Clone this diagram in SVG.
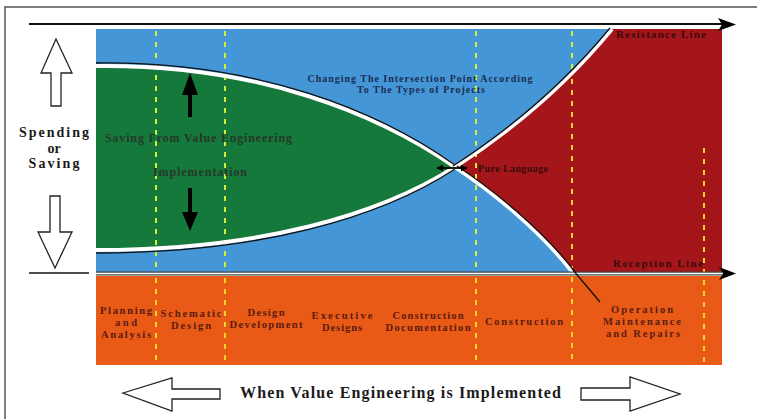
<svg xmlns="http://www.w3.org/2000/svg" width="757" height="419" viewBox="0 0 757 419">
<defs>
<style>
text{font-family:"Liberation Serif","Times New Roman",serif;font-weight:bold}
.lbl{font-size:14px;fill:#1a1a1a;text-anchor:middle}
.ph{font-size:10.5px;fill:#5b1a12;text-anchor:middle}
.gr{font-size:12px;fill:#26382a}
.bl{font-size:10px;fill:#1b2d55;text-anchor:middle}
.rd{font-size:11px;fill:#3a0b0b}
.dashT{stroke:#d2ee36;stroke-width:2;stroke-dasharray:5 6;fill:none}
.dashB{stroke:#f5d52a;stroke-width:2;stroke-dasharray:5 6;fill:none}
.hollow{fill:#fff;stroke:#222;stroke-width:1.3;stroke-linejoin:miter}
.edgeW{fill:none;stroke:#fff;stroke-width:4}
.edgeK{fill:none;stroke:#111;stroke-width:1.3}
</style>
<marker id="ah" viewBox="0 0 10 10" refX="9" refY="5" markerWidth="7" markerHeight="7" orient="auto-start-reverse" markerUnits="userSpaceOnUse">
<path d="M0,0 L10,5 L0,10 z" fill="#000"/>
</marker>
</defs>
<rect width="757" height="419" fill="#fff"/>
<!-- frame -->
<path d="M5,419 L5,7 L757,7" fill="none" stroke="#555" stroke-width="1.5"/>

<!-- chart regions -->
<g id="chart">
<rect x="96" y="29" width="626" height="244" fill="#4596d6"/>
<rect x="96" y="276" width="626" height="89" fill="#e85a15"/>
<path id="green" d="M96,66 C260,64 380,115 455,167 C380,215 260,250 96,250 Z" fill="#14793a"/>
<path id="red" d="M455,167 C520,125 570,80 612,29 L722,29 L722,273 L573,273 C540,230 490,190 455,167 Z" fill="#a5161b"/>
</g>

<!-- dashed phase lines -->
<g id="phase-lines">
<line class="dashT" x1="156" y1="31" x2="156" y2="273"/>
<line class="dashB" x1="156" y1="278" x2="156" y2="365"/>
<line class="dashT" x1="225" y1="31" x2="225" y2="273"/>
<line class="dashB" x1="225" y1="278" x2="225" y2="365"/>
<line class="dashT" x1="476" y1="31" x2="476" y2="273"/>
<line class="dashB" x1="476" y1="278" x2="476" y2="365"/>
<line class="dashT" x1="572" y1="31" x2="572" y2="72"/>
<line class="dashB" x1="572" y1="79" x2="572" y2="365"/>
<line class="dashB" x1="704" y1="148" x2="704" y2="365"/>
</g>

<!-- connectors / curves -->
<g id="connectors">
<path class="edgeW" d="M96,66 C260,64 380,115 455,167"/>
<path class="edgeK" d="M96,63 C260,61 380,112 455,165"/>
<path class="edgeW" d="M455,167 C380,215 260,250 96,250"/>
<path class="edgeK" d="M455,169 C380,218 260,253 96,253"/>
<path class="edgeW" d="M455,167 C520,125 570,80 612,29"/>
<path class="edgeK" d="M453,166 C518,124 568,79 610,28"/>
<path class="edgeW" d="M455,167 C490,190 540,230 573,273"/>
<path class="edgeK" d="M457,166 C492,189 542,229 575,272"/>
<!-- axes -->
<line x1="29" y1="24" x2="724" y2="24" stroke="#111" stroke-width="1.8"/>
<path d="M718,18 L736,24.5 L718,31 L722,24.5 Z" fill="#000"/>
<line x1="29" y1="273" x2="89" y2="273" stroke="#111" stroke-width="1.6"/>
<line x1="96" y1="273.5" x2="722" y2="273.5" stroke="#444" stroke-width="4"/>
<line x1="96" y1="273.5" x2="722" y2="273.5" stroke="#fff" stroke-width="1.6"/>
<path d="M719,267 L736,273.5 L719,280 L723,273.5 Z" fill="#000"/>
<!-- leader -->
<line x1="573" y1="270" x2="600" y2="302" stroke="#111" stroke-width="1.3"/>
<!-- intersection double arrow -->
<line x1="437" y1="168" x2="467" y2="168" stroke="#000" stroke-width="1.8" marker-start="url(#ah)" marker-end="url(#ah)"/>
<!-- solid arrows -->
<path d="M190,73 L198,95 L192,95 L192,117 L188,117 L188,95 L182,95 Z" fill="#000"/>
<path d="M188,188 L192,188 L192,212 L198,212 L190,231 L182,212 L188,212 Z" fill="#000"/>
<!-- hollow arrows -->
<polygon class="hollow" points="56,39 72,73 61,73 61,106 51,106 51,73 41,73"/>
<polygon class="hollow" points="50,196 60,196 60,232 72,232 55,268 38,232 50,232"/>
<polygon class="hollow" points="123,393 172,378 172,389 220,389 220,399 172,399 172,411"/>
<polygon class="hollow" points="581,388 630,388 630,377 680,394 630,411 630,400 581,400"/>
</g>

<!-- labels -->
<g id="axis-labels">
<text class="lbl" x="54" y="137" textLength="70">Spending</text>
<text class="lbl" x="54" y="152.5">or</text>
<text class="lbl" x="54" y="168" textLength="51">Saving</text>
<text style="font-size:16px;fill:#1a1a1a" x="240" y="398" textLength="321" lengthAdjust="spacing">When Value Engineering is Implemented</text>
</g>
<g id="green-labels">
<text class="gr" x="105" y="142" textLength="187">Saving From Value Engineering</text>
<text class="gr" x="153" y="176" textLength="94">Implementation</text>
</g>
<g id="blue-labels">
<text class="bl" x="420" y="81.5" textLength="225">Changing The Intersection Point According</text>
<text class="bl" x="421" y="92.5" textLength="128">To The Types of Projects</text>
</g>
<g id="red-labels">
<text class="rd" x="616" y="38" textLength="90">Resistance Line</text>
<text class="rd" style="font-size:10px" x="478" y="172" textLength="70">Pure Language</text>
<text class="rd" x="613" y="267" textLength="90">Reception Line</text>
</g>
<g id="phase-planning">
<text class="ph" x="126" y="313.5" textLength="52">Planning</text>
<text class="ph" x="126" y="325.5" textLength="22">and</text>
<text class="ph" x="126" y="337.5" textLength="50">Analysis</text>
</g>
<g id="phase-schematic">
<text class="ph" x="191" y="317" textLength="61">Schematic</text>
<text class="ph" x="191" y="329" textLength="40">Design</text>
</g>
<g id="phase-design-dev">
<text class="ph" x="266" y="316" textLength="37">Design</text>
<text class="ph" x="266" y="328" textLength="73">Development</text>
</g>
<g id="phase-executive">
<text class="ph" x="342" y="318.5" textLength="61">Executive</text>
<text class="ph" x="342" y="330.5" textLength="40">Designs</text>
</g>
<g id="phase-construction-doc">
<text class="ph" x="428" y="319" textLength="71">Construction</text>
<text class="ph" x="428" y="331" textLength="85">Documentation</text>
</g>
<g id="phase-construction">
<text class="ph" x="524" y="325" textLength="78">Construction</text>
</g>
<g id="phase-operation">
<text class="ph" x="642" y="312.5" textLength="62">Operation</text>
<text class="ph" x="642" y="324.5" textLength="78">Maintenance</text>
<text class="ph" x="643" y="336.5" textLength="74">and Repairs</text>
</g>
</svg>
